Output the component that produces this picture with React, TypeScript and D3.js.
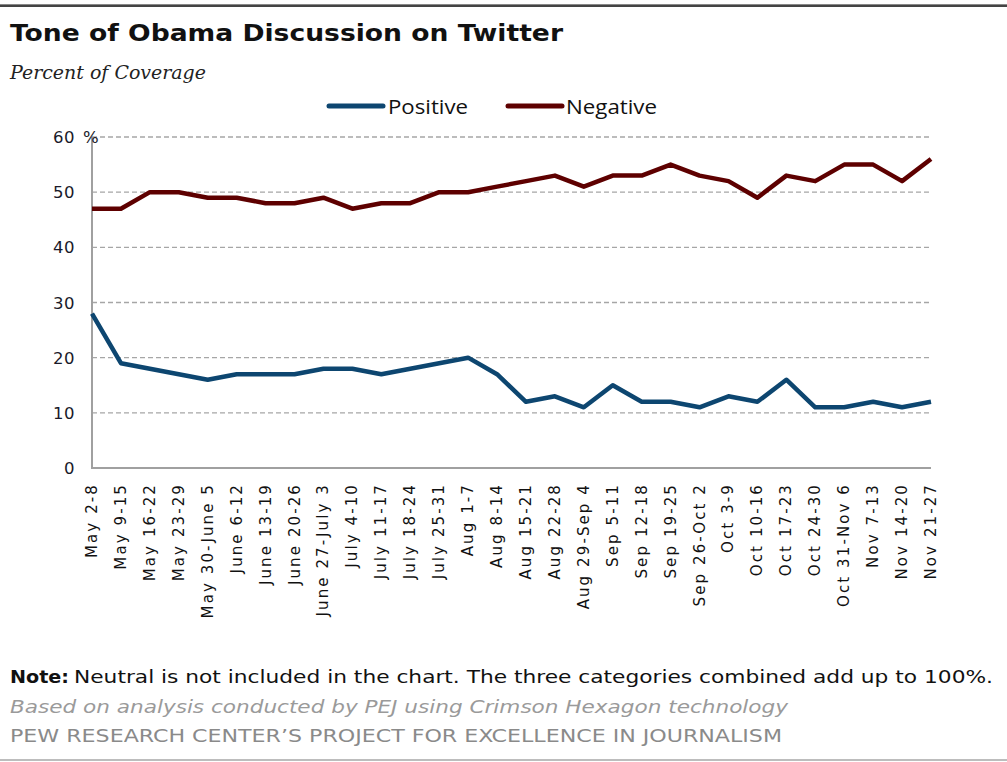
import React from "react";
import * as d3 from "d3";

const categories = [
  "May 2-8", "May 9-15", "May 16-22", "May 23-29", "May 30-June 5",
  "June 6-12", "June 13-19", "June 20-26", "June 27-July 3", "July 4-10",
  "July 11-17", "July 18-24", "July 25-31", "Aug 1-7", "Aug 8-14",
  "Aug 15-21", "Aug 22-28", "Aug 29-Sep 4", "Sep 5-11", "Sep 12-18",
  "Sep 19-25", "Sep 26-Oct 2", "Oct 3-9", "Oct 10-16", "Oct 17-23",
  "Oct 24-30", "Oct 31-Nov 6", "Nov 7-13", "Nov 14-20", "Nov 21-27",
];

const positive = [28, 19, 18, 17, 16, 17, 17, 17, 18, 18, 17, 18, 19, 20, 17,
  12, 13, 11, 15, 12, 12, 11, 13, 12, 16, 11, 11, 12, 11, 12];

const negative = [47, 47, 50, 50, 49, 49, 48, 48, 49, 47, 48, 48, 50, 50, 51,
  52, 53, 51, 53, 53, 55, 53, 52, 49, 53, 52, 55, 55, 52, 56];

const yTicks = [0, 10, 20, 30, 40, 50, 60];

const seriesList = [
  { name: "Positive", values: positive, color: "#0d4670" },
  { name: "Negative", values: negative, color: "#5e0000" },
];

export default function App() {
  const W = 1007, H = 762;
  const x = d3.scalePoint<string>().domain(categories).range([92, 931]);
  const y = d3.scaleLinear().domain([0, 60]).range([468, 137]);
  const line = d3.line<number>()
    .x((_, i) => x(categories[i]) as number)
    .y((d) => y(d));

  const verdana = "Verdana, 'DejaVu Sans', sans-serif";
  const legendPos = [
    { lx1: 329, lx2: 383, tx: 388, tw: 80 },
    { lx1: 508, lx2: 562, tx: 566, tw: 91 },
  ];

  return (
    <svg width={W} height={H} style={{ position: "absolute", left: 0, top: 0, background: "#fff" }}
      xmlns="http://www.w3.org/2000/svg">
      <rect x={0} y={0} width={W} height={H} fill="#fff" />
      {/* frame */}
      <rect x={0} y={4} width={W} height={3} fill="#444" />
      <rect x={0} y={4} width={W} height={1} fill="#888" />
      <rect x={0} y={759} width={W} height={2} fill="#bdbdbd" />

      {/* title */}
      <text x={10} y={41} fontFamily={verdana} fontWeight="bold" fontSize={23} fill="#111"
        textLength={553} lengthAdjust="spacingAndGlyphs">Tone of Obama Discussion on Twitter</text>
      <text x={10} y={79} fontFamily="'DejaVu Serif', Georgia, serif" fontStyle="italic" fontSize={18} fill="#222"
        textLength={196} lengthAdjust="spacingAndGlyphs">Percent of Coverage</text>

      {/* legend */}
      {seriesList.map((s, i) => (
        <g key={s.name}>
          <line x1={legendPos[i].lx1} x2={legendPos[i].lx2} y1={106} y2={106}
            stroke={s.color} strokeWidth={5} strokeLinecap="round" />
          <text x={legendPos[i].tx} y={114} fontFamily="'Open Sans', 'Noto Sans', sans-serif" fontSize={20} fill="#111"
            textLength={legendPos[i].tw} lengthAdjust="spacingAndGlyphs">{s.name}</text>
        </g>
      ))}

      {/* gridlines */}
      {yTicks.filter((t) => t > 0).map((t) => (
        <line key={t} x1={92} x2={931} y1={y(t)} y2={y(t)} stroke="#a6a6a6" strokeWidth={1.3}
          strokeDasharray="5,3" />
      ))}
      {/* axes */}
      <line x1={92} x2={92} y1={y(60)} y2={y(0) + 1} stroke="#a0a0a0" strokeWidth={2} />
      <line x1={91} x2={931} y1={y(0)} y2={y(0)} stroke="#a0a0a0" strokeWidth={2} />

      {/* y tick labels */}
      {yTicks.map((t) => (
        <text key={t} x={75} y={y(t) + 6} textAnchor="end" fontFamily={verdana} fontSize={16.5}
          letterSpacing={0.5} fill="#1a1a2a">{t}</text>
      ))}
      <text x={83} y={y(60) + 6} fontFamily={verdana} fontSize={16.5} fill="#1a1a2a">%</text>

      {/* x labels */}
      {categories.map((c) => (
        <text key={c} transform={`translate(${(x(c) as number) + 5},483) rotate(-90)`} textAnchor="end"
          fontFamily={verdana} fontSize={15} letterSpacing={2.1} fill="#111">{c}</text>
      ))}

      {/* series */}
      {seriesList.map((s) => (
        <path key={s.name} d={line(s.values) || ""} fill="none" stroke={s.color} strokeWidth={4.5}
          strokeLinejoin="round" strokeLinecap="butt" />
      ))}

      {/* notes */}
      <text x={10} y={683} fontFamily="'DejaVu Sans Condensed', 'DejaVu Sans', sans-serif" fontWeight="bold" fontSize={18} fill="#111"
        textLength={59} lengthAdjust="spacingAndGlyphs">Note:</text>
      <text x={74} y={683} fontFamily="'DejaVu Sans Condensed', 'DejaVu Sans', sans-serif" fontSize={18} fill="#111"
        textLength={919} lengthAdjust="spacingAndGlyphs">Neutral is not included in the chart. The three categories combined add up to 100%.</text>
      <text x={10} y={713} fontFamily="'DejaVu Sans Condensed', 'DejaVu Sans', sans-serif" fontStyle="italic" fontSize={18} fill="#9a9a9a"
        textLength={778} lengthAdjust="spacingAndGlyphs">Based on analysis conducted by PEJ using Crimson Hexagon technology</text>
      <text x={10} y={742} fontFamily="'DejaVu Sans Condensed', 'DejaVu Sans', sans-serif" fontSize={18} fill="#8a8a8a"
        textLength={772} lengthAdjust="spacingAndGlyphs">PEW RESEARCH CENTER’S PROJECT FOR EXCELLENCE IN JOURNALISM</text>
    </svg>
  );
}
